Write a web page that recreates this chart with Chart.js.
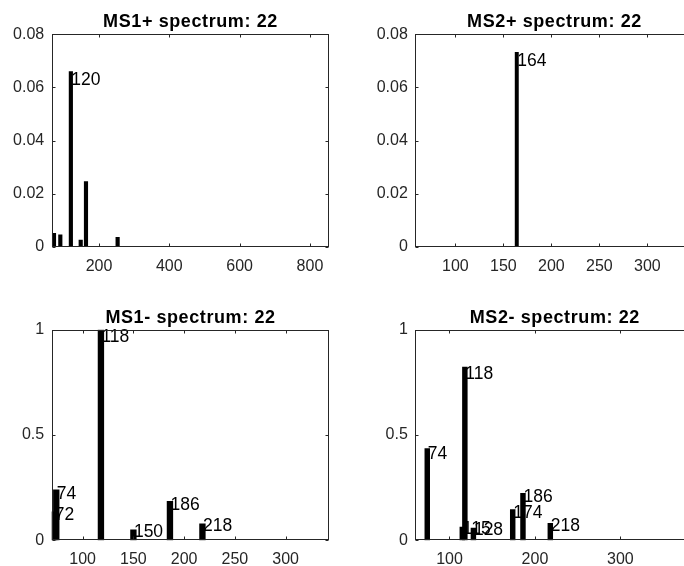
<!DOCTYPE html>
<html lang="en">
<head>
<meta charset="UTF-8">
<title>Spectra: 22</title>
<script src="https://cdn.jsdelivr.net/npm/chart.js@4"></script>
<style>
  body { margin: 0; background: #fff; overflow: hidden; width: 684px; height: 566px; }
  .panel { position: absolute; }
  .panel canvas { display: block; }
</style>
</head>
<body>
<div class="panel" style="left:0px;top:0px"><canvas id="ms1pos" width="342" height="283"></canvas></div>
<div class="panel" style="left:342px;top:0px"><canvas id="ms2pos" width="372" height="283"></canvas></div>
<div class="panel" style="left:0px;top:283px"><canvas id="ms1neg" width="342" height="283"></canvas></div>
<div class="panel" style="left:342px;top:283px"><canvas id="ms2neg" width="372" height="283"></canvas></div>
<script>
const FONT = "'Liberation Sans', Arial, Helvetica, sans-serif";
const AXIS_COLOR = '#262626';

// MS1 positive mode
const ms1PosMz = [72, 90, 120, 148, 163, 253];
const ms1PosInt = [0.005, 0.0045, 0.066, 0.0025, 0.0245, 0.0035];
const ms1PosLabeled = [120];
const ms1PosXTicks = [200, 400, 600, 800];

// MS2 positive mode
const ms2PosMz = [164];
const ms2PosInt = [0.0732];
const ms2PosLabeled = [164];
const ms2PosXTicks = [100, 150, 200, 250, 300];

// MS1 negative mode
const ms1NegMz = [72, 74, 118, 150, 186, 218];
const ms1NegInt = [0.135, 0.24, 1.0, 0.05, 0.185, 0.078];
const ms1NegLabeled = [72, 74, 118, 150, 186, 218];
const ms1NegXTicks = [100, 150, 200, 250, 300];

// MS2 negative mode
const ms2NegMz = [74, 115, 118, 128, 174, 186, 218];
const ms2NegInt = [0.435, 0.063, 0.823, 0.058, 0.146, 0.223, 0.08];
const ms2NegLabeled = [74, 115, 118, 128, 174, 186, 218];
const ms2NegXTicks = [100, 200, 300];

const posYTicks = [0, 0.02, 0.04, 0.06, 0.08];
const negYTicks = [0, 0.5, 1];

// frame, inward ticks, title and peak labels, matlab style
const spectrumDecor = {
  id: 'spectrumDecor',
  afterDatasetsDraw(chart, args, opts) {
    const { ctx, scales } = chart;
    const ds = chart.data.datasets[0].data;
    const yMax = scales.y.max;
    ctx.save();
    ctx.fillStyle = '#000';
    ctx.font = '17.5px ' + FONT;
    ctx.textAlign = 'left';
    ctx.textBaseline = 'alphabetic';
    opts.labeled.forEach((mz) => {
      const pt = ds.find((p) => p.x === mz);
      if (!pt) return;
      const r = pt.y / yMax;
      // small peaks get their labels nudged up a bit
      const nudge = -6 * (1 - r) * (1 - r) + opts.labelShift;
      const px = scales.x.getPixelForValue(pt.x);
      const py = scales.y.getPixelForValue(pt.y);
      ctx.fillText(String(mz), px + 0.5, py + 12.5 + nudge);
    });
    ctx.restore();
  },
  afterDraw(chart, args, opts) {
    const { ctx, chartArea: a, scales } = chart;
    const L = Math.round(a.left) + 0.5, R = Math.round(a.right) - 0.5;
    const T = Math.round(a.top) + 0.5, B = Math.round(a.bottom) - 0.5;
    const tl = 3;
    ctx.save();
    ctx.strokeStyle = AXIS_COLOR;
    ctx.lineWidth = 1;
    ctx.strokeRect(L, T, R - L, B - T);
    ctx.beginPath();
    scales.x.ticks.forEach((t) => {
      const x = Math.round(scales.x.getPixelForValue(t.value)) + 0.5;
      ctx.moveTo(x, B); ctx.lineTo(x, B - tl);
      ctx.moveTo(x, T); ctx.lineTo(x, T + tl);
    });
    scales.y.ticks.forEach((t) => {
      const y = Math.round(scales.y.getPixelForValue(t.value)) + 0.5;
      ctx.moveTo(L, y); ctx.lineTo(L + tl, y);
      ctx.moveTo(R, y); ctx.lineTo(R - tl, y);
    });
    ctx.stroke();

    ctx.fillStyle = '#000';
    ctx.font = 'bold 18px ' + FONT;
    if ('letterSpacing' in ctx) ctx.letterSpacing = '0.6px';
    ctx.textAlign = 'center';
    ctx.textBaseline = 'alphabetic';
    ctx.fillText(opts.title, (a.left + a.right) / 2, a.top - 7);
    ctx.restore();
  }
};

function spectrumChart(id, cfg) {
  const panel = cfg.panel, box = cfg.box;
  const points = cfg.mz.map((x, i) => ({ x, y: cfg.intensity[i] }));
  const tickFont = { family: FONT, size: 16 };
  return new Chart(document.getElementById(id), {
    type: 'bar',
    data: {
      datasets: [{
        data: points,
        backgroundColor: '#000',
        borderWidth: 0,
        barThickness: cfg.barWidth
      }]
    },
    options: {
      responsive: false,
      animation: false,
      events: [],
      layout: {
        padding: {
          left: 0,
          bottom: 0,
          top: box.top - panel.top,
          right: panel.left + panel.width - box.right
        }
      },
      scales: {
        x: {
          type: 'linear',
          offset: false,
          min: cfg.xMin,
          max: cfg.xMax,
          grid: { display: false, drawTicks: false },
          border: { display: false },
          ticks: { color: AXIS_COLOR, font: tickFont, padding: 10, maxRotation: 0 },
          afterBuildTicks: (s) => { s.ticks = cfg.xTicks.map((v) => ({ value: v })); },
          afterFit: (s) => { s.height = panel.top + panel.height - box.bottom; }
        },
        y: {
          type: 'linear',
          min: 0,
          max: cfg.yMax,
          grid: { display: false, drawTicks: false },
          border: { display: false },
          ticks: { color: AXIS_COLOR, font: tickFont, padding: 7.5, callback: (v) => String(v) },
          afterBuildTicks: (s) => { s.ticks = cfg.yTicks.map((v) => ({ value: v })); },
          afterFit: (s) => { s.width = box.left - panel.left; }
        }
      },
      plugins: {
        legend: { display: false },
        tooltip: { enabled: false },
        title: { display: false },
        spectrumDecor: { title: cfg.title, labeled: cfg.labeled, labelShift: cfg.labelShift }
      }
    },
    plugins: [spectrumDecor]
  });
}

spectrumChart('ms1pos', {
  title: 'MS1+ spectrum: 22',
  mz: ms1PosMz, intensity: ms1PosInt, labeled: ms1PosLabeled,
  xMin: 65.5, xMax: 855, xTicks: ms1PosXTicks, yMax: 0.08, yTicks: posYTicks,
  panel: { left: 0, top: 0, width: 342, height: 283 },
  box: { left: 51.7, top: 34.3, right: 329.3, bottom: 246.7 },
  barWidth: 3.5, labelShift: 1
});

spectrumChart('ms2pos', {
  title: 'MS2+ spectrum: 22',
  mz: ms2PosMz, intensity: ms2PosInt, labeled: ms2PosLabeled,
  xMin: 58.3, xMax: 348.3, xTicks: ms2PosXTicks, yMax: 0.08, yTicks: posYTicks,
  panel: { left: 342, top: 0, width: 372, height: 283 },
  box: { left: 415.3, top: 34.3, right: 693.7, bottom: 246.7 },
  barWidth: 3.3, labelShift: 1
});

spectrumChart('ms1neg', {
  title: 'MS1- spectrum: 22',
  mz: ms1NegMz, intensity: ms1NegInt, labeled: ms1NegLabeled,
  xMin: 69.5, xMax: 343, xTicks: ms1NegXTicks, yMax: 1, yTicks: negYTicks,
  panel: { left: 0, top: 283, width: 342, height: 283 },
  box: { left: 51.7, top: 329.7, right: 329.3, bottom: 540.3 },
  barWidth: 5.7, labelShift: 0
});

spectrumChart('ms2neg', {
  title: 'MS2- spectrum: 22',
  mz: ms2NegMz, intensity: ms2NegInt, labeled: ms2NegLabeled,
  xMin: 60, xMax: 386.5, xTicks: ms2NegXTicks, yMax: 1, yTicks: negYTicks,
  panel: { left: 342, top: 283, width: 372, height: 283 },
  box: { left: 415.3, top: 329.7, right: 694.3, bottom: 540.3 },
  barWidth: 4.8, labelShift: 0
});
</script>
</body>
</html>
